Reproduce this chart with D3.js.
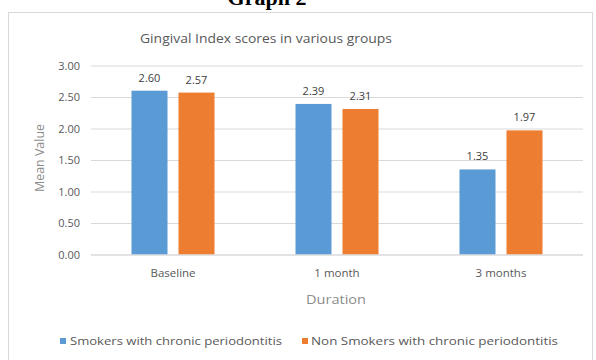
<!DOCTYPE html>
<html>
<head>
<meta charset="utf-8">
<script src="https://cdn.jsdelivr.net/npm/d3@7"></script>
<style>
  html, body { margin: 0; padding: 0; background: #fff; }
  svg { display: block; }
  text { font-family: "Open Sans", "Noto Sans", sans-serif; }
</style>
</head>
<body>
<svg id="chart" width="596" height="360"></svg>
<script>
// Gingival index scores, mean values per group and follow-up point
const categories = ["Baseline", "1 month", "3 months"];
const seriesNames = ["Smokers with chronic periodontitis", "Non Smokers with chronic periodontitis"];
const smokers = [2.60, 2.39, 1.35];
const nonSmokers = [2.57, 2.31, 1.97];
const yTicks = [0, 0.5, 1, 1.5, 2, 2.5, 3];
const colors = ["#5B9BD5", "#ED7D31"];

const series = [smokers, nonSmokers];
const svg = d3.select("#chart");

// figure caption above the chart frame
svg.append("text")
  .attr("x", 267).attr("y", 5)
  .attr("text-anchor", "middle")
  .style("font-family", "'Liberation Serif', 'Times New Roman', serif")
  .style("font-weight", "bold")
  .style("font-size", "22px")
  .attr("fill", "#000")
  .text("Graph 2");

// chart frame
svg.append("rect")
  .attr("x", 8.5).attr("y", 12.5)
  .attr("width", 584).attr("height", 360)
  .attr("fill", "#fff")
  .attr("stroke", "#d9d9d9");

const plot = { left: 91, right: 583, top: 65.5, bottom: 254.5 };

const x0 = d3.scaleBand().domain(categories).range([plot.left, plot.right]).padding(0);
const groupW = 83;
const x1 = d3.scaleBand().domain([0, 1])
  .range([(x0.bandwidth() - groupW) / 2, (x0.bandwidth() + groupW) / 2])
  .paddingInner(0.234).paddingOuter(0);
const y = d3.scaleLinear().domain([0, 3]).range([plot.bottom, plot.top]);

// title
svg.append("text")
  .attr("x", 266).attr("y", 43)
  .attr("text-anchor", "middle")
  .attr("fill", "#595959")
  .style("font-size", "13.5px")
  .attr("textLength", 252)
  .attr("lengthAdjust", "spacingAndGlyphs")
  .text("Gingival Index scores in various groups");

// horizontal gridlines + y tick labels via axis
const yAxis = d3.axisLeft(y).tickValues(yTicks).tickFormat(d3.format(".2f"))
  .tickSize(-(plot.right - plot.left)).tickPadding(11);
const gy = svg.append("g").attr("transform", `translate(${plot.left},0)`).call(yAxis);
gy.select(".domain").remove();
gy.selectAll(".tick line").attr("stroke", "#d9d9d9");
gy.selectAll(".tick text")
  .attr("fill", "#595959")
  .style("font-size", "11px")
  .style("font-family", "'Open Sans', 'Noto Sans', sans-serif");

// bars
const groups = svg.append("g").selectAll("g")
  .data(categories)
  .join("g")
  .attr("transform", d => `translate(${x0(d)},0)`);

groups.selectAll("rect")
  .data((d, i) => series.map((s, k) => ({ k, v: s[i] })))
  .join("rect")
  .attr("x", d => x1(d.k))
  .attr("width", x1.bandwidth())
  .attr("y", d => y(d.v))
  .attr("height", d => y(0) - y(d.v))
  .attr("fill", d => colors[d.k]);

// value labels
groups.selectAll("text.val")
  .data((d, i) => series.map((s, k) => ({ k, v: s[i] })))
  .join("text")
  .attr("class", "val")
  .attr("x", d => x1(d.k) + x1.bandwidth() / 2)
  .attr("y", d => y(d.v) - 9)
  .attr("text-anchor", "middle")
  .attr("fill", "#404040")
  .style("font-size", "11px")
  .text(d => d.v.toFixed(2));

// x category labels
const xAxis = d3.axisBottom(x0).tickSize(0).tickPadding(14);
const gx = svg.append("g").attr("transform", `translate(0,${plot.bottom})`).call(xAxis);
gx.select(".domain").attr("stroke", "#d9d9d9").attr("d", `M${plot.left},0.5H${plot.right}`);
gx.selectAll(".tick text")
  .attr("fill", "#595959")
  .style("font-size", "11.5px")
  .style("font-family", "'Open Sans', 'Noto Sans', sans-serif");

// axis titles
svg.append("text")
  .attr("x", 336).attr("y", 304)
  .attr("text-anchor", "middle")
  .attr("fill", "#8c8c8c")
  .style("font-size", "12px")
  .attr("textLength", 60)
  .attr("lengthAdjust", "spacingAndGlyphs")
  .text("Duration");

svg.append("text")
  .attr("transform", "translate(44,158) rotate(-90)")
  .attr("text-anchor", "middle")
  .attr("fill", "#8c8c8c")
  .style("font-size", "12px")
  .attr("textLength", 68)
  .attr("lengthAdjust", "spacingAndGlyphs")
  .text("Mean Value");

// legend
const legendItems = [
  { name: seriesNames[0], color: colors[0], sx: 60, tx: 70, w: 212 },
  { name: seriesNames[1], color: colors[1], sx: 302, tx: 311, w: 247 }
];
const lg = svg.append("g");
legendItems.forEach(it => {
  lg.append("rect").attr("x", it.sx).attr("y", 338).attr("width", 6).attr("height", 6).attr("fill", it.color);
  lg.append("text")
    .attr("x", it.tx).attr("y", 345)
    .attr("fill", "#595959")
    .style("font-size", "10.5px")
    .attr("textLength", it.w)
    .attr("lengthAdjust", "spacingAndGlyphs")
    .text(it.name);
});
</script>
</body>
</html>
